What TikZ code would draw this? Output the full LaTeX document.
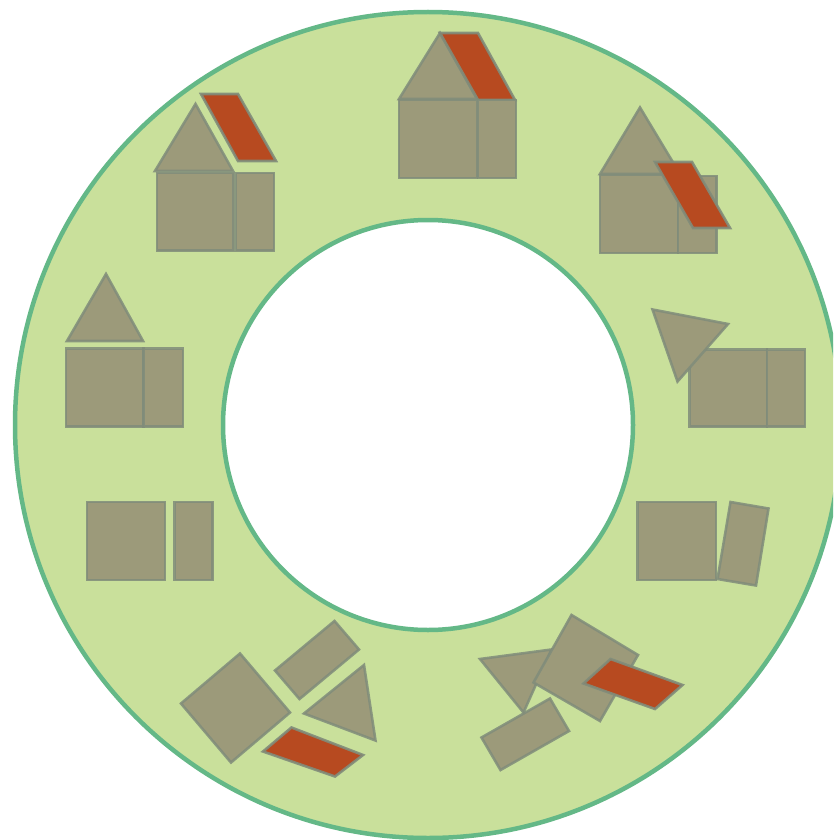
\documentclass[tikz,border=0pt]{standalone}
\definecolor{ringfill}{RGB}{201,224,155}
\definecolor{ringline}{RGB}{100,184,135}
\definecolor{piece}{RGB}{156,154,122}
\definecolor{pieceline}{RGB}{128,140,122}
\definecolor{roof}{RGB}{183,74,32}
\tikzset{
  pc/.style={fill=piece, draw=pieceline, draw opacity=0.85, line width=2.6pt, line join=miter},
  rf/.style={fill=roof, draw=pieceline, draw opacity=0.9, line width=2.6pt, line join=miter},
  ring/.style={draw=ringline, line width=4.5pt}
}
\begin{document}
\begin{tikzpicture}[x=1pt,y=-1pt]
\useasboundingbox (0,0) rectangle (833,840);
\fill[white] (0,0) rectangle (833,840);
% ring
\begin{scope}
\clip (0,0) rectangle (833,840);
\filldraw[ring, fill=ringfill] (428,425) circle (413);
\filldraw[ring, fill=white] (428,425) circle (205);
\end{scope}
% top house
\draw[pc] (440,33) -- (477,99) -- (399,99) -- cycle;
\draw[rf] (440,33) -- (478,33) -- (515,100) -- (478,100) -- cycle;
\draw[pc] (399,100) rectangle (477,178);
\draw[pc] (478,100) rectangle (516,178);
% upper-left house
\draw[pc] (195.5,104) -- (233,171) -- (155,171) -- cycle;
\draw[rf] (201,94) -- (238,94) -- (276,161) -- (238,161) -- cycle;
\draw[pc] (157,173) rectangle (233.5,250.5);
\draw[pc] (236,173) rectangle (274,250.5);
% upper-right house
\draw[pc] (640,107.5) -- (680,174) -- (600,174) -- cycle;
\draw[pc] (600,175) rectangle (678,253);
\draw[pc] (678,176) rectangle (716.5,253);
\draw[rf] (655,162) -- (692,162) -- (730,228) -- (693,228) -- cycle;
% left house
\draw[pc] (106,274) -- (143,341) -- (67,341) -- cycle;
\draw[pc] (66,348.5) rectangle (143.5,426.5);
\draw[pc] (143.5,348.5) rectangle (183,426.5);
% right
\draw[pc] (689.5,349.5) rectangle (767,426.5);
\draw[pc] (767,349.5) rectangle (805,426.5);
\draw[pc] (652.5,309.5) -- (728,324) -- (677.5,381.5) -- cycle;
% left pair
\draw[pc] (87,502) rectangle (165,580);
\draw[pc] (174.5,502) rectangle (212.5,580);
% right pair
\draw[pc] (637.5,502) rectangle (716,580);
\draw[pc] (730.5,502) -- (768.5,508.5) -- (756,585.5) -- (717.5,579) -- cycle;
% bottom-left scattered
\draw[pc] (240,653.5) -- (290,712.5) -- (231,762.5) -- (181,703.5) -- cycle;
\draw[pc] (334.5,621) -- (359,649.5) -- (299.5,699) -- (275,670.5) -- cycle;
\draw[pc] (364,665) -- (375.5,740.5) -- (304,713.5) -- cycle;
\draw[rf] (291.5,727.5) -- (363,755) -- (335,776.5) -- (263,751.5) -- cycle;
% bottom-right scattered
\draw[pc] (480,659) -- (551.5,649.5) -- (523.5,712.5) -- cycle;
\draw[pc] (571.5,615) -- (638,655) -- (600,721) -- (533.5,682.5) -- cycle;
\draw[pc] (550,698.5) -- (569,731) -- (500.5,770) -- (481.5,737.5) -- cycle;
\draw[rf] (610.5,659) -- (682.5,685) -- (655,709) -- (583.5,683.5) -- cycle;
\end{tikzpicture}
\end{document}
